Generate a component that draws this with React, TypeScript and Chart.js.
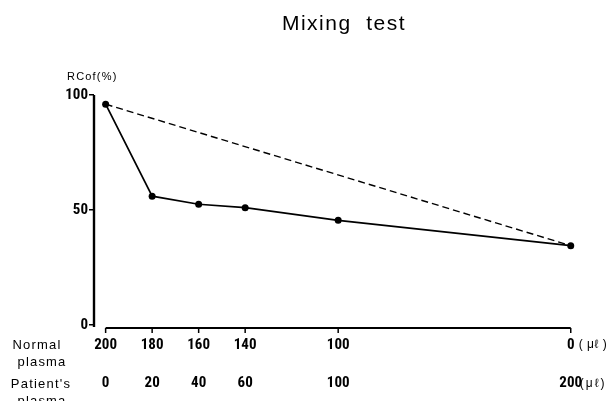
import React, { useEffect, useRef } from 'react';
import { Chart, registerables } from 'chart.js';

Chart.register(...registerables);

// ---- data ----
const patientPlasma = [0, 20, 40, 60, 100, 200];
const normalPlasma = [200, 180, 160, 140, 100, 0];
const rcofMixed = [96, 56, 52.5, 51, 45.5, 34.5];
const expectedX = [0, 200];
const expectedY = [96, 34.5];
const yTickValues = [0, 50, 100];
const titleText = 'Mixing  test';
const yUnitText = 'RCof(%)';
const unitText = '(μℓ)';
const rowLabels = [['Normal', 'plasma'], ["Patient's", 'plasma']];

const NARROW = "'Liberation Sans Narrow', 'Arial Narrow', 'Roboto Condensed', 'Liberation Sans', Arial, sans-serif";
const SANS = "'Liberation Sans', Arial, Helvetica, sans-serif";

const decor = {
  id: 'decor',
  afterDraw(chart: any) {
    const { ctx, chartArea, scales } = chart;
    const xs = scales.x;
    const ys = scales.y;
    ctx.save();
    ctx.strokeStyle = '#000';
    // y axis line
    ctx.lineWidth = 2.4;
    ctx.beginPath();
    ctx.moveTo(chartArea.left, ys.getPixelForValue(yTickValues[yTickValues.length - 1]));
    ctx.lineTo(chartArea.left, ys.getPixelForValue(yTickValues[0]) + 2);
    ctx.stroke();

    // x axis baseline (detached from y axis)
    const y0 = chartArea.bottom + 3;
    const xa = xs.getPixelForValue(patientPlasma[0]);
    const xb = xs.getPixelForValue(patientPlasma[patientPlasma.length - 1]);
    ctx.lineWidth = 2;
    ctx.beginPath();
    ctx.moveTo(xa, y0);
    ctx.lineTo(xb, y0);
    ctx.stroke();
    ctx.lineWidth = 1.5;
    xs.ticks.forEach((t: any) => {
      const px = xs.getPixelForValue(t.value);
      ctx.beginPath();
      ctx.moveTo(px, y0);
      ctx.lineTo(px, y0 + 5);
      ctx.stroke();
    });

    ctx.fillStyle = '#000';
    // title
    ctx.font = `21px ${SANS}`;
    ctx.textAlign = 'center';
    ctx.textBaseline = 'middle';
    (ctx as any).letterSpacing = '1.5px';
    ctx.fillText(titleText, 344, 24);

    // y unit label
    ctx.font = `11px ${SANS}`;
    (ctx as any).letterSpacing = '1.2px';
    ctx.textAlign = 'left';
    ctx.fillText(yUnitText, 67, 77);

    // row labels
    ctx.font = `13px ${SANS}`;
    (ctx as any).letterSpacing = '1.2px';
    ctx.textAlign = 'center';
    ctx.fillText(rowLabels[0][0], 37, 345);
    ctx.fillText(rowLabels[0][1], 42, 362);
    ctx.fillText(rowLabels[1][0], 41, 384);
    ctx.fillText(rowLabels[1][1], 42, 401);

    // units after last tick
    const xl = xs.getPixelForValue(patientPlasma[patientPlasma.length - 1]);
    ctx.font = `12px ${SANS}`;
    (ctx as any).letterSpacing = '0.5px';
    ctx.textAlign = 'left';
    ctx.fillText(unitText.replace('(', '( ').replace(')', ' )'), xl + 8, 345);
    (ctx as any).letterSpacing = '2px';
    ctx.fillText(unitText, xl + 9, 384);
    (ctx as any).letterSpacing = '0px';
    ctx.restore();
  },
};

export default function App() {
  const ref = useRef<HTMLCanvasElement | null>(null);

  useEffect(() => {
    if (!ref.current) return;
    const chart = new Chart(ref.current, {
      type: 'line',
      data: {
        datasets: [
          {
            label: 'Mixed plasma',
            data: patientPlasma.map((x, i) => ({ x, y: rcofMixed[i] })),
            borderColor: '#000',
            backgroundColor: '#000',
            borderWidth: 1.7,
            pointRadius: 3.5,
            pointBorderWidth: 0,
            pointBackgroundColor: '#000',
            tension: 0,
            clip: false as any,
          },
          {
            label: 'Expected',
            data: expectedX.map((x, i) => ({ x, y: expectedY[i] })),
            borderColor: '#000',
            borderWidth: 1.4,
            borderDash: [7, 4],
            pointRadius: 0,
            tension: 0,
            clip: false as any,
          },
        ],
      },
      options: {
        animation: false,
        responsive: false,
        devicePixelRatio: 1,
        layout: { padding: { top: 95, right: 16, bottom: 0, left: 0 } },
        plugins: {
          legend: { display: false },
          tooltip: { enabled: false },
          title: { display: false },
        },
        scales: {
          x: {
            type: 'linear',
            min: -5,
            max: 210,
            afterFit: (s: any) => {
              s.height = 76;
            },
            afterBuildTicks: (s: any) => {
              s.ticks = patientPlasma.map((v) => ({ value: v }));
            },
            grid: { display: false },
            border: { display: false },
            ticks: {
              autoSkip: false,
              maxRotation: 0,
              padding: 3,
              color: '#000',
              font: { family: NARROW, size: 15, weight: 'bold', lineHeight: '19px' },
              callback: (v: any) => {
                const i = patientPlasma.indexOf(Number(v));
                return [String(normalPlasma[i]), '', String(v)];
              },
            },
          },
          y: {
            type: 'linear',
            min: 0,
            max: 100,
            afterFit: (s: any) => {
              s.width = 94;
            },
            afterBuildTicks: (s: any) => {
              s.ticks = yTickValues.map((v) => ({ value: v }));
            },
            grid: {
              drawOnChartArea: false,
              drawTicks: true,
              tickLength: 5,
              tickColor: '#000',
              lineWidth: 1.5,
            },
            border: { display: false },
            ticks: {
              padding: 1,
              color: '#000',
              font: { family: NARROW, size: 15, weight: 'bold' },
            },
          },
        },
      },
      plugins: [decor],
    });
    return () => chart.destroy();
  }, []);

  return (
    <div style={{ position: 'absolute', left: 0, top: 0, width: 610, height: 401, background: '#fff' }}>
      <canvas ref={ref} width={610} height={401} style={{ display: 'block' }} />
    </div>
  );
}
